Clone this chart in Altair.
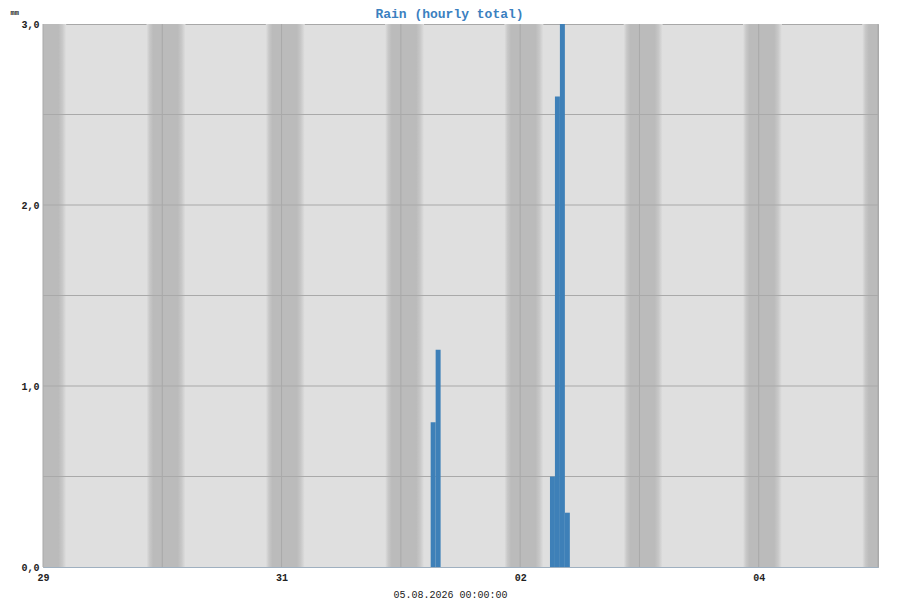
import altair as alt
import pandas as pd

# ---- data ----
rain_hours = ["2026-08-01 06:00", "2026-08-01 07:00",
              "2026-08-02 06:00", "2026-08-02 07:00", "2026-08-02 08:00", "2026-08-02 09:00"]
rain_mm = [0.8, 1.2, 0.5, 2.6, 3.0, 0.3]

night_start = ["2026-07-28 20:50", "2026-07-29 20:50", "2026-07-30 20:50", "2026-07-31 20:50",
               "2026-08-01 20:50", "2026-08-02 20:50", "2026-08-03 20:50", "2026-08-04 20:50"]
night_end = ["2026-07-29 04:40", "2026-07-30 04:40", "2026-07-31 04:40", "2026-08-01 04:40",
             "2026-08-02 04:40", "2026-08-03 04:40", "2026-08-04 04:40", "2026-08-05 04:40"]

days = ["2026-07-29 00:00", "2026-07-30 00:00", "2026-07-31 00:00", "2026-08-01 00:00",
        "2026-08-02 00:00", "2026-08-03 00:00", "2026-08-04 00:00", "2026-08-05 00:00"]
y_grid = [0.5, 1.0, 1.5, 2.0, 2.5]
y_ticks = [0.0, 1.0, 2.0, 3.0]

title_text = "Rain (hourly total)"
x_title = "05.08.2026 00:00:00"
y_unit = "mm"

# ---- tables ----
rain = pd.DataFrame({"start": pd.to_datetime(rain_hours), "mm": rain_mm})
rain["end"] = rain["start"] + pd.Timedelta(hours=1)
nights = pd.DataFrame({"s": pd.to_datetime(night_start), "e": pd.to_datetime(night_end)})
grid_x = pd.DataFrame({"d": pd.to_datetime(days)})
grid_y = pd.DataFrame({"v": y_grid})

FONT = "Liberation Mono"
LIGHT = "#dfdfdf"
DARK = "#bbbbbb"
GRID = "#a9a9a9"

xscale = alt.Scale(domain=[alt.DateTime(year=2026, month=7, date=29),
                           alt.DateTime(year=2026, month=8, date=5)])
yscale = alt.Scale(domain=[0, 3], nice=False)

xaxis = alt.Axis(
    values=[alt.DateTime(year=2026, month=7, date=29),
            alt.DateTime(year=2026, month=7, date=31),
            alt.DateTime(year=2026, month=8, date=2),
            alt.DateTime(year=2026, month=8, date=4)],
    format="%d", grid=False, ticks=False, domainColor="#9fb0c0", domainWidth=1,
    labelFlush=False,
    labelFont=FONT, labelFontSize=10, labelFontWeight="bold", labelColor="#222",
    labelPadding=5, title=x_title, titleFont=FONT, titleFontSize=10,
    titleFontWeight="normal", titleColor="#222", titlePadding=7, titleX=407,
)
yaxis = alt.Axis(
    values=y_ticks, labelExpr="replace(format(datum.value, '.1f'), '.', ',')",
    grid=False, ticks=False, domain=False,
    labelFont=FONT, labelFontSize=10, labelFontWeight="bold", labelColor="#222",
    labelPadding=4, title=y_unit, titleAngle=0, titleAlign="left", titleBaseline="top",
    titleX=-33, titleY=-16, titleFont=FONT, titleFontSize=7, titleFontWeight="bold",
    titleColor="#222",
)

grad = alt.LinearGradient(
    gradient="linear", x1=0, x2=1, y1=0, y2=0,
    stops=[alt.GradientStop(color=LIGHT, offset=0),
           alt.GradientStop(color="#c8c8c8", offset=0.08),
           alt.GradientStop(color=DARK, offset=0.17),
           alt.GradientStop(color=DARK, offset=0.80),
           alt.GradientStop(color="#c8c8c8", offset=0.9),
           alt.GradientStop(color=LIGHT, offset=1)],
)

bands = alt.Chart(nights).mark_rect(color=grad, clip=True).encode(
    x=alt.X("s:T", scale=xscale, axis=xaxis),
    x2="e:T",
)
vgrid = alt.Chart(grid_x).mark_rule(color=GRID, strokeWidth=1).encode(x=alt.X("d:T"))
hgrid = alt.Chart(grid_y).mark_rule(color=GRID, strokeWidth=1).encode(
    y=alt.Y("v:Q", scale=yscale, axis=yaxis))
bars = alt.Chart(rain).mark_rect(color="#3e80b8", clip=True).encode(
    x=alt.X("start:T"), x2="end:T",
    y=alt.Y("mm:Q"), y2=alt.datum(0),
)

chart = alt.layer(bands, vgrid, hgrid, bars).properties(
    width=835, height=543,
    title=alt.TitleParams(title_text, font=FONT, fontSize=13, fontWeight="bold",
                          color="#3b80c0", dx=-11, offset=-13),
    autosize=alt.AutoSizeParams(type="none"),
    padding={"left": 35, "top": 16, "right": 14, "bottom": 33},
    background="white",
).configure_view(fill=LIGHT, stroke="#a8a8a8", strokeWidth=1)

chart.save("out.html", embed_options={"renderer": "svg", "actions": False})
